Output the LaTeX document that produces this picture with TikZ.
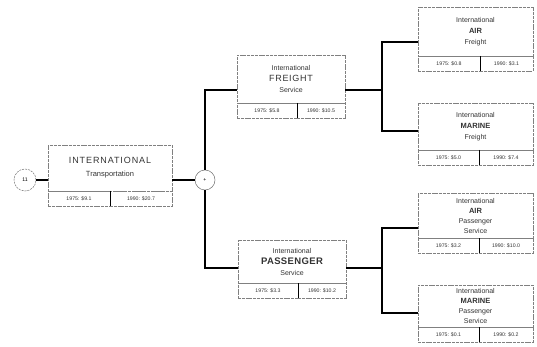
\documentclass[tikz,border=0pt]{standalone}
\usepackage{fontspec}
\setmainfont{Liberation Sans}
\newcommand{\tinytxt}{\fontsize{7}{11}\selectfont}
\newcommand{\valtxt}{\fontsize{5.2}{6}\selectfont}
\newcommand{\bigtxt}{\fontsize{9}{9}\selectfont}
\tikzset{
  every node/.style={inner sep=0pt, outer sep=0pt},
  hdbox/.style={draw=black!50, line width=0.5pt, dash pattern=on 3pt off 0.8pt, align=center, anchor=north west, font=\tinytxt, text=black!80},
  valbox/.style={draw=black!50, line width=0.5pt, dash pattern=on 3pt off 0.8pt, minimum height=15pt, font=\valtxt, text=black!80},
  circ/.style={circle, draw=black!55, line width=0.5pt},
  link/.style={line width=1.6pt},
  divider/.style={line width=1pt}
}
\begin{document}
\begin{tikzpicture}[x=1pt, y=-1pt]
\useasboundingbox (0,0) rectangle (537,347);
% level 0
\node[circ, minimum size=22pt, dash pattern=on 2pt off 1pt, font=\valtxt] (root) at (25,180) {11};
\node[hdbox, minimum width=124pt, minimum height=46pt, font=\fontsize{7.5}{13}\selectfont] (intl) at (48,145) {{\fontsize{9}{9}\selectfont\addfontfeatures{LetterSpace=10}INTERNATIONAL}\\ Transportation};
\node[valbox, minimum width=62pt, anchor=north west] (intl75) at (intl.south west) {1975: \$9.1};
\node[valbox, minimum width=62pt, anchor=north east] (intl90) at (intl.south east) {1990: \$20.7};
\draw[divider] (intl75.north east) -- (intl75.south east);
\node[circ, minimum size=20pt, font=\valtxt] (sum) at (205,180) {+};
% level 1
\node[hdbox, minimum width=108pt, minimum height=48pt] (frt) at (237,55) {International\\ {\bigtxt\addfontfeatures{LetterSpace=8}FREIGHT}\\ Service};
\node[valbox, minimum width=60pt, anchor=north west] (frt75) at (frt.south west) {1975: \$5.8};
\node[valbox, minimum width=48pt, anchor=north east] (frt90) at (frt.south east) {1990: \$10.5};
\draw[divider] (frt75.north east) -- (frt75.south east);
\node[hdbox, minimum width=108pt, minimum height=43pt] (pas) at (238,240) {International\\ {\fontsize{9.5}{9.5}\selectfont\bfseries\addfontfeatures{LetterSpace=4}PASSENGER}\\ Service};
\node[valbox, minimum width=60pt, anchor=north west] (pas75) at (pas.south west) {1975: \$3.3};
\node[valbox, minimum width=48pt, anchor=north east] (pas90) at (pas.south east) {1990: \$10.2};
\draw[divider] (pas75.north east) -- (pas75.south east);
% level 2
\node[hdbox, minimum width=115pt, minimum height=49pt] (airf) at (418,7) {International\\ {\fontsize{7.5}{7.5}\selectfont\bfseries AIR}\\ Freight};
\node[valbox, minimum width=62pt, anchor=north west] (airf75) at (airf.south west) {1975: \$0.8};
\node[valbox, minimum width=53pt, anchor=north east] (airf90) at (airf.south east) {1990: \$3.1};
\draw[divider] (airf75.north east) -- (airf75.south east);
\node[hdbox, minimum width=115pt, minimum height=47pt] (marf) at (418,103) {International\\ {\fontsize{7.5}{7.5}\selectfont\bfseries MARINE}\\ Freight};
\node[valbox, minimum width=61pt, anchor=north west] (marf75) at (marf.south west) {1975: \$5.0};
\node[valbox, minimum width=54pt, anchor=north east] (marf90) at (marf.south east) {1990: \$7.4};
\draw[divider] (marf75.north east) -- (marf75.south east);
\node[hdbox, minimum width=115pt, minimum height=45pt, font=\fontsize{7}{10}\selectfont] (airp) at (418,193) {International\\ {\fontsize{7.5}{7.5}\selectfont\bfseries AIR}\\ Passenger\\ Service};
\node[valbox, minimum width=61pt, anchor=north west] (airp75) at (airp.south west) {1975: \$3.2};
\node[valbox, minimum width=54pt, anchor=north east] (airp90) at (airp.south east) {1990: \$10.0};
\draw[divider] (airp75.north east) -- (airp75.south east);
\node[hdbox, minimum width=115pt, minimum height=42pt, font=\fontsize{7}{10}\selectfont] (marp) at (418,285) {International\\ {\fontsize{7.5}{7.5}\selectfont\bfseries MARINE}\\ Passenger\\ Service};
\node[valbox, minimum width=61pt, anchor=north west] (marp75) at (marp.south west) {1975: \$0.1};
\node[valbox, minimum width=54pt, anchor=north east] (marp90) at (marp.south east) {1990: \$0.2};
\draw[divider] (marp75.north east) -- (marp75.south east);
% connectors
\coordinate (jf) at (205,90);
\coordinate (jp) at (205,268);
\coordinate (kfa) at (382,42);
\coordinate (kfm) at (382,131);
\coordinate (kf) at (382,90);
\coordinate (kpa) at (382,228);
\coordinate (kpm) at (382,313);
\coordinate (kp) at (382,268);
\draw[link] (root) -- (root -| intl.west);
\draw[link] (intl.east |- sum) -- (sum);
\draw[link] (sum) -- (jf) -- (jf -| frt.west);
\draw[link] (sum) -- (jp) -- (jp -| pas.west);
\draw[link] (kf -| frt.east) -- (kf);
\draw[link] (kfa -| airf.west) -- (kfa) -- (kfm) -- (kfm -| marf.west);
\draw[link] (kp -| pas.east) -- (kp);
\draw[link] (kpa -| airp.west) -- (kpa) -- (kpm) -- (kpm -| marp.west);
\end{tikzpicture}
\end{document}
